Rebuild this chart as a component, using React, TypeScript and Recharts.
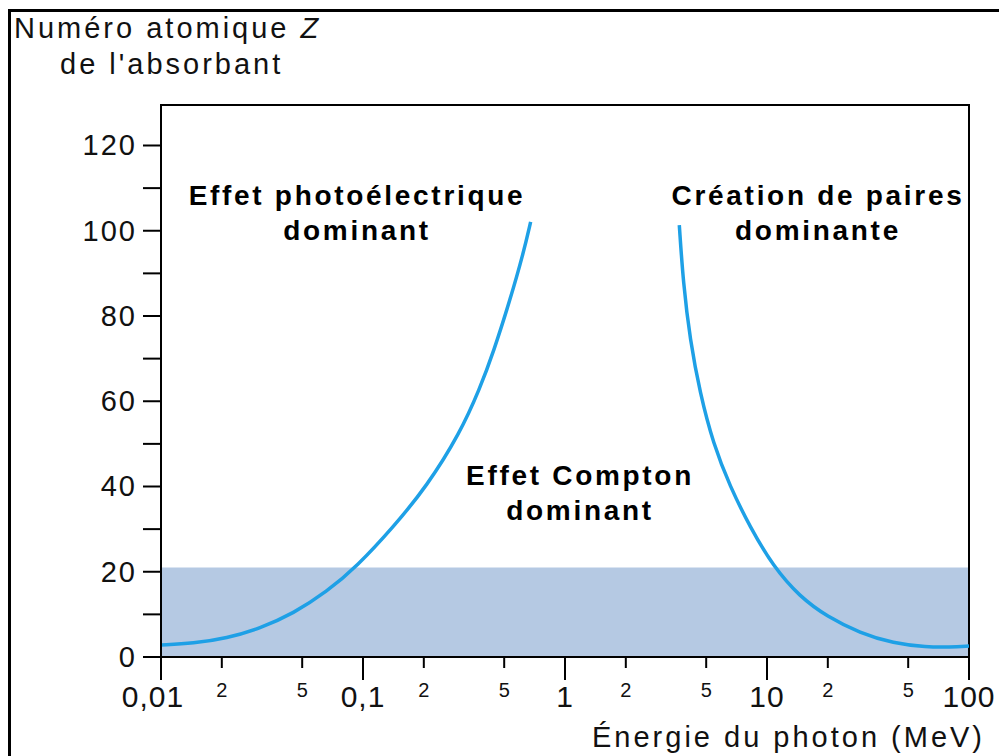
import { LineChart, Line, XAxis, YAxis, ReferenceArea } from 'recharts'

// énergie du photon (MeV) / numéro atomique Z, frontière photoélectrique-Compton
const photoEnergy = [0.01, 0.01445, 0.02115, 0.0309, 0.0452, 0.0661, 0.0931, 0.1413, 0.2067, 0.302, 0.379, 0.442, 0.534, 0.622, 0.676]
const photoZ = [2.8, 3.2, 4.4, 6.7, 10.2, 15.3, 21.2, 30.5, 40, 52.5, 63, 71.5, 83.7, 94.7, 102.1]

// frontière Compton-création de paires
const pairEnergy = [3.68, 3.85, 4.16, 4.66, 5.42, 6.56, 8.24, 10.74, 14.56, 19.8, 28.9, 42.2, 61.7, 80.5, 100]
const pairZ = [101.3, 87.7, 74.4, 61.9, 50, 40, 30.5, 21.2, 14.1, 9.5, 5.6, 3.2, 2.3, 2.3, 2.6]

const xTicks = [0.01, 0.02, 0.05, 0.1, 0.2, 0.5, 1, 2, 5, 10, 20, 50, 100]
const xTickLabels = ['0,01', '2', '5', '0,1', '2', '5', '1', '2', '5', '10', '2', '5', '100']
const xMajor = [0.01, 0.1, 1, 10, 100]
const yTicks = [0, 10, 20, 30, 40, 50, 60, 70, 80, 90, 100, 110, 120]
const bandZ = [0, 21]

const font = '"Liberation Sans", Arial, Helvetica, sans-serif'

function XTick(props: any) {
  const { x, y, payload } = props
  const v = payload.value
  const major = xMajor.includes(v)
  const label = xTickLabels[xTicks.indexOf(v)]
  return (
    <g>
      <line x1={x} x2={x} y1={y} y2={y + (major ? 23 : 11)} stroke="#000" strokeWidth={2} />
      <text
        x={x + (v === 0.01 ? -8 : 0)}
        y={y + (major ? 50 : 40)}
        textAnchor="middle"
        fontFamily={font}
        fontSize={major ? 30 : 20}
        letterSpacing={major ? 1 : 0}
        fill="#111"
      >
        {label}
      </text>
    </g>
  )
}

function YTick(props: any) {
  const { x, y, payload } = props
  if (payload.value % 20 !== 0) return <g />
  return (
    <text x={x} y={y} dy={10} textAnchor="end" fontFamily={font} fontSize={29} letterSpacing={2} fill="#111">
      {payload.value}
    </text>
  )
}

export default function App() {
  const photoData = photoEnergy.map((e, i) => ({ e, z: photoZ[i] }))
  const pairData = pairEnergy.map((e, i) => ({ e, z: pairZ[i] }))

  return (
    <div style={{ position: 'absolute', left: 0, top: 0, width: 999, height: 756, background: '#fff' }}>
      <div style={{ position: 'absolute', left: 8, top: 9, width: 991, height: 747, borderTop: '3px solid #000', borderLeft: '3px solid #000' }} />
      <LineChart width={999} height={756} margin={{ top: 105, right: 30, bottom: 0, left: 0 }}>
        <XAxis
          dataKey="e"
          type="number"
          scale="log"
          domain={[0.01, 100]}
          ticks={xTicks}
          allowDataOverflow
          height={99}
          tickSize={0}
          tickMargin={0}
          tickLine={false}
          tick={<XTick />}
          axisLine={{ stroke: '#000', strokeWidth: 2 }}
        />
        <YAxis
          type="number"
          domain={[0, 129.5]}
          ticks={yTicks}
          allowDataOverflow
          width={161}
          tickSize={18}
          tickMargin={6}
          tickLine={{ stroke: '#000', strokeWidth: 2 }}
          tick={<YTick />}
          axisLine={{ stroke: '#000', strokeWidth: 2 }}
        />
        <ReferenceArea x1={0.01} x2={100} y1={bandZ[0]} y2={bandZ[1]} fill="#b5c9e3" fillOpacity={1} stroke="none" />
        <ReferenceArea x1={0.01} x2={100} y1={0} y2={129.5} fill="none" stroke="#000" strokeWidth={2} />
        <Line data={photoData} dataKey="z" type="basis" stroke="#1ea0e6" strokeWidth={3.5} dot={false} isAnimationActive={false} />
        <Line data={pairData} dataKey="z" type="basis" stroke="#1ea0e6" strokeWidth={3.5} dot={false} isAnimationActive={false} />
      </LineChart>
      <svg width={999} height={756} style={{ position: 'absolute', left: 0, top: 0, pointerEvents: 'none' }}>
        <g fontFamily={font} fill="#111">
          <text x={14} y={38} fontSize={29} letterSpacing={3}>
            Numéro atomique <tspan fontStyle="italic">Z</tspan>
          </text>
          <text x={60} y={74} fontSize={29} letterSpacing={3}>de l'absorbant</text>
          <text x={592} y={747} fontSize={29} letterSpacing={3}>Énergie du photon (MeV)</text>
        </g>
        <g fontFamily={font} fontWeight="bold" fontSize={28} letterSpacing={2.7} textAnchor="middle" fill="#000">
          <text x={357} y={205}>Effet photoélectrique</text>
          <text x={357} y={240}>dominant</text>
          <text x={818} y={205}>Création de paires</text>
          <text x={818} y={240}>dominante</text>
          <text x={580} y={485}>Effet Compton</text>
          <text x={580} y={520}>dominant</text>
        </g>
      </svg>
    </div>
  )
}
